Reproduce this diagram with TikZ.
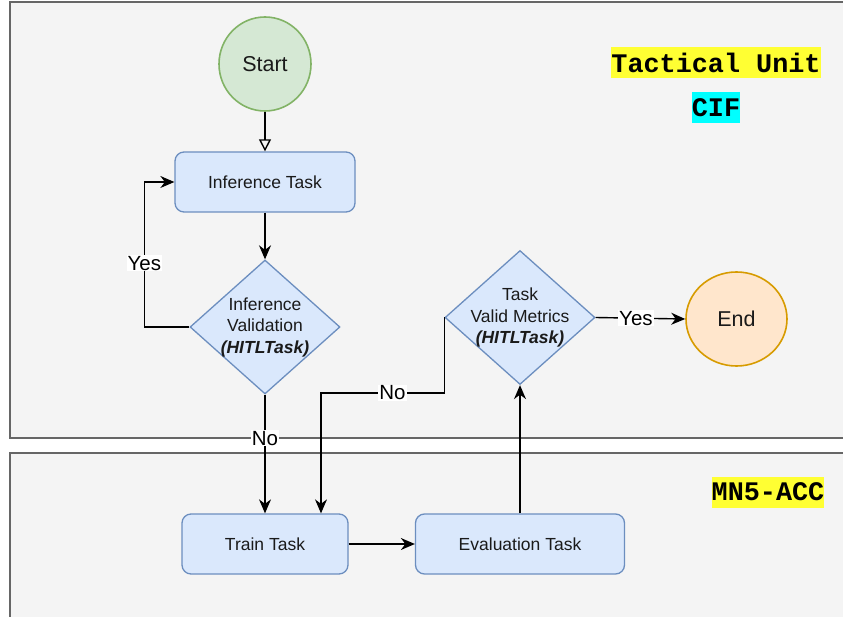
\documentclass[tikz,border=0pt]{standalone}
\usepackage{fontspec}
\setmainfont{Liberation Sans}
\newfontfamily\monofnt{Liberation Mono}
\usetikzlibrary{shapes.geometric,arrows.meta}
\definecolor{lanefill}{HTML}{F4F4F4}
\definecolor{lanedraw}{HTML}{666666}
\definecolor{bluefill}{HTML}{DAE8FC}
\definecolor{bluedraw}{HTML}{6C8EBF}
\definecolor{greenfill}{HTML}{D5E8D4}
\definecolor{greendraw}{HTML}{82B366}
\definecolor{orangefill}{HTML}{FFE6CC}
\definecolor{orangedraw}{HTML}{D79B00}
\definecolor{hlyellow}{HTML}{FFFF33}
\definecolor{hlcyan}{HTML}{00FFFF}
\definecolor{txt}{HTML}{1A1A1A}
\begin{document}
\begin{tikzpicture}[x=1pt,y=-1pt,
  lane/.style={draw=lanedraw, fill=lanefill, line width=1.2pt},
  task/.style={draw=bluedraw, fill=bluefill, rounded corners=9pt, line width=1.3pt,
    font=\fontsize{17.5}{21}\selectfont, text=txt, inner sep=0pt, minimum height=60pt},
  decision/.style={diamond, draw=bluedraw, fill=bluefill, line width=1.3pt, inner sep=0pt,
    minimum width=150pt, minimum height=134pt},
  dtext/.style={align=center, font=\fontsize{17.5}{21.5}\selectfont, text=txt, inner sep=0pt},
  startc/.style={ellipse, draw=greendraw, fill=greenfill, line width=1.6pt, inner sep=0pt,
    minimum width=92pt, minimum height=94pt, font=\fontsize{21.5}{24}\selectfont, text=txt},
  endc/.style={ellipse, draw=orangedraw, fill=orangefill, line width=1.6pt, inner sep=0pt,
    minimum width=101pt, minimum height=94pt, font=\fontsize{21.5}{24}\selectfont, text=txt},
  flow/.style={line width=1.4pt, draw=black, -{Stealth[length=14pt,width=12pt,inset=4.5pt]}},
  lab/.style={fill=white, inner sep=1pt, font=\fontsize{20.5}{24}\selectfont, text=black},
  hl/.style={font=\monofnt\bfseries\fontsize{26.8}{30}\selectfont, inner xsep=0pt, inner ysep=0pt,
    minimum height=31pt, text=black}
]
\useasboundingbox (0,0) rectangle (843,617);
\clip (0,0) rectangle (843,617);
% swimlanes
\draw[lane] (10,2) rectangle (870,438);
\draw[lane] (10,453) rectangle (870,640);
% lane titles
\node[hl, fill=hlyellow] (tu) at (716,63) {Tactical Unit};
\node[hl, fill=hlcyan] (cif) at (716,108) {CIF};
\node[hl, fill=hlyellow] (mn5) at (768,492) {MN5-ACC};
% nodes
\node[startc] (start) at (265,64) {Start};
\node[task, minimum width=180pt] (inf) at (265,182) {Inference Task};
\node[decision] (iv) at (265,327) {};
\node[dtext] (ivt) at (iv.center) {Inference\\Validation\\\textbf{\textit{(HITLTask)}}};
\node[task, minimum width=166pt] (train) at (265,544) {Train Task};
\node[task, minimum width=209pt] (eval) at (520,544) {Evaluation Task};
\node[decision] (tv) at (520,317.5) {};
\node[dtext] (tvt) at (tv.center) {Task\\Valid Metrics\\\textbf{\textit{(HITLTask)}}};
\node[endc] (end) at (736.5,319) {End};
% connectors
\draw[line width=1.4pt, -{Triangle[open,length=12pt,width=12pt]}] (start) -- (inf);
\draw[flow] (inf) -- (iv);
\draw[flow] (iv.west) -- ++(-45,0) |- (inf.west) node[lab, pos=0.22] {Yes};
\draw[flow] (iv.south) -- (train.north) node[lab, pos=0.367] {No};
\draw[flow] (tv.west) -- ++(0,75.5) -| ([xshift=56pt]train.north) node[lab, pos=0.21] {No};
\draw[flow] (train.east) -- (eval.west);
\draw[flow] (eval.north) -- (tv.south);
\draw[flow] (tv.east) -- (end.west) node[lab, pos=0.45] {Yes};
\end{tikzpicture}
\end{document}
